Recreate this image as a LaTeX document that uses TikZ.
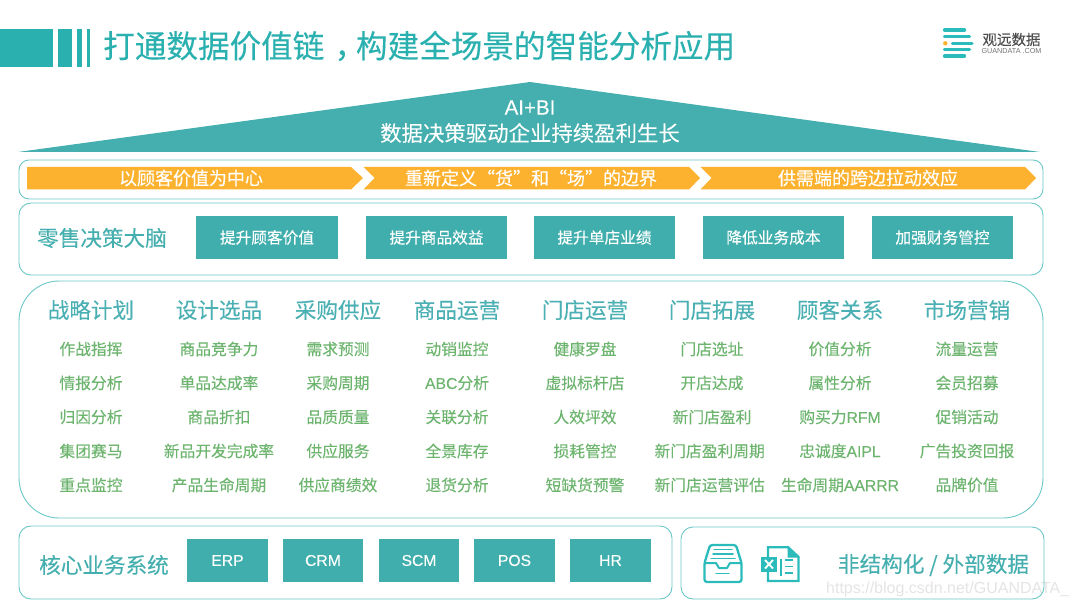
\documentclass[tikz,border=0pt]{standalone}
\usepackage{fontspec}
\setmainfont[FakeBold=0.12]{Noto Sans CJK SC}
\newfontfamily\latinfont{Liberation Sans}
\newfontfamily\latinbold[FakeBold=0.12]{Liberation Sans}
\definecolor{tealbar}{HTML}{2BB0B0}
\definecolor{teal2}{HTML}{45AFAF}
\definecolor{btn}{HTML}{3FAEAC}
\definecolor{panel}{HTML}{6CC8C8}
\definecolor{orangeb}{HTML}{FDB22F}
\definecolor{itemg}{HTML}{6DB56F}
\definecolor{head}{HTML}{4BB0B3}
\definecolor{icon}{HTML}{2BBBBB}
\newcommand{\fs}[1]{\fontsize{#1}{#1}\selectfont}
\newcommand{\lt}[1]{{\latinbold #1}}
\tikzset{
  panelbox/.style={draw=panel,line width=0.9pt,fill=white},
  btnbox/.style={fill=btn,text=white,minimum height=43pt,inner sep=0pt,font=\fs{15.7}},
  item/.style={text=itemg,inner sep=0pt,font=\fs{15.75}},
  colhead/.style={text=head,inner sep=0pt,font=\fs{21.6}},
  sidehead/.style={text=teal2,inner sep=0pt,font=\fs{21.6}},
  band/.style={text=white,inner sep=0pt,font=\fs{18}},
  arrowband/.style={fill=orangeb},
  iconline/.style={draw=icon,line width=2.3pt,line join=round,line cap=round},
}
\begin{document}
\begin{tikzpicture}[x=1pt,y=-1pt]
\useasboundingbox (0,0) rectangle (1080,607);
% title bars
\fill[tealbar] (0,29) rectangle (53,67);
\fill[tealbar] (58,29) rectangle (72,67);
\fill[tealbar] (77,29) rectangle (81.5,67);
\fill[tealbar] (87,29) rectangle (90,67);
\node[anchor=west,inner sep=0pt,text=tealbar,font=\fs{31.6}] (title) at (103,46) {打通数据价值链\hspace{0.32em}，\hspace{-0.32em}构建全场景的智能分析应用};
% logo
\begin{scope}[line cap=round]
\draw[icon,line width=3.2pt] (944.5,30) -- (964.5,30);
\draw[icon,line width=3.2pt] (944.5,36.7) -- (969.5,36.7);
\draw[icon,line width=3.2pt] (952.5,43.3) -- (972,43.3);
\draw[icon,line width=3.2pt] (944.5,49.6) -- (969.5,49.6);
\draw[icon,line width=3.2pt] (944.5,56) -- (964.5,56);
\end{scope}
\fill[orangeb] (945.3,43.3) circle (2.2);
\node[anchor=center,inner sep=0pt,text=black!70,font=\fs{14.5}] (logoa) at (1011.5,39.5) {观远数据};
\node[anchor=center,inner sep=0pt,text=black!55,font=\latinfont\fs{7.2}] (logob) at (1011.5,51.5) {GUANDATA .COM};
% roof
\fill[teal2] (18,152) -- (530,82) -- (1040,152) -- cycle;
\node[inner sep=0pt,text=white,font=\latinbold\fs{20.5}] (roofa) at (530,107.5) {AI+BI};
\node[inner sep=0pt,text=white,font=\fs{21.4}] (roofb) at (530,133) {数据决策驱动企业持续盈利生长};
% panels
\draw[panelbox,rounded corners=10pt] (19,160) rectangle (1043,199);
\draw[panelbox,rounded corners=12pt] (19,203) rectangle (1043,275);
\draw[panelbox,rounded corners=40pt] (19,281) rectangle (1043,518);
\draw[panelbox,rounded corners=12pt] (19,526) rectangle (672,599);
\draw[panelbox,rounded corners=12pt] (681,527) rectangle (1044,599);
% arrows
\fill[arrowband] (27,167) -- (351,167) -- (363,178) -- (351,189.5) -- (27,189.5) -- cycle;
\fill[arrowband] (363.5,167) -- (689,167) -- (700,178) -- (689,189.5) -- (363.5,189.5) -- (374.5,178) -- cycle;
\fill[arrowband] (700.5,167) -- (1025,167) -- (1036,178) -- (1025,189.5) -- (700.5,189.5) -- (711.5,178) -- cycle;
\node[band] (b1) at (191,178) {以顾客价值为中心};
\node[band] (b2) at (531,178) {重新定义“货”和“场”的边界};
\node[band] (b3) at (868,178) {供需端的跨边拉动效应};
% retail brain
\node[sidehead,anchor=west] (brain) at (37,238) {零售决策大脑};
\node[btnbox,minimum width=142pt] (v1) at (267,237.5) {提升顾客价值};
\node[btnbox,minimum width=141pt] (v2) at (436.5,237.5) {提升商品效益};
\node[btnbox,minimum width=141pt] (v3) at (604.5,237.5) {提升单店业绩};
\node[btnbox,minimum width=141pt] (v4) at (773.5,237.5) {降低业务成本};
\node[btnbox,minimum width=141pt] (v5) at (942.5,237.5) {加强财务管控};
% columns
\foreach \n/\x/\y/\h/\a/\b/\c/\d/\e in {
 1/91/91/战略计划/作战指挥/情报分析/归因分析/集团赛马/重点监控,
 2/219/219/设计选品/商品竞争力/单品达成率/商品折扣/新品开发完成率/产品生命周期,
 3/338/338/采购供应/需求预测/采购周期/品质质量/供应服务/供应商绩效,
 4/457/457/商品运营/动销监控/\lt{ABC}分析/关联分析/全景库存/退货分析,
 5/585/585/门店运营/健康罗盘/虚拟标杆店/人效坪效/损耗管控/短缺货预警,
 6/712/709.7/门店拓展/门店选址/开店达成/新门店盈利/新门店盈利周期/新门店运营评估,
 7/840/840/顾客关系/价值分析/属性分析/购买力\lt{RFM}/忠诚度\lt{AIPL}/生命周期\lt{AARRR},
 8/967/967/市场营销/流量运营/会员招募/促销活动/广告投资回报/品牌价值}{
  \node[colhead] (h\n) at (\x,310) {\h};
  \node[item] (a\n) at (\x,349) {\a};
  \node[item] (b\n) at (\x,383) {\b};
  \node[item] (c\n) at (\x,417) {\c};
  \node[item] (d\n) at (\y,451) {\d};
  \node[item] (e\n) at (\y,485) {\e};
}
% core systems
\node[sidehead,anchor=west] (core) at (39,565) {核心业务系统};
\foreach \n/\x/\w in {ERP/227.5/81,CRM/323/80,SCM/419/80,POS/514.5/81,HR/610.5/81}{
  \node[btnbox,minimum width=\w pt,font=\latinbold\fs{15.7}] (\n) at (\x,560.5) {\n};
}
\node[sidehead,anchor=center] (ext) at (933.5,565) {非结构化 / 外部数据};
% inbox icon
\draw[iconline,rounded corners=2.5pt] (704.5,563) -- (710,545) -- (736,545) -- (741.5,563) -- (741.5,582) -- (704.5,582) -- cycle;
\draw[iconline,line width=2pt] (704.5,563) -- (716,563) -- (719,568) -- (727,568) -- (730,563) -- (741.5,563);
\draw[iconline,line width=1.5pt] (714,549.5) -- (732,549.5) (713,554) -- (733,554) (711,558.5) -- (735,558.5) (716,573.5) -- (729,573.5);
% excel icon
\draw[iconline,line width=2.4pt,line join=miter,line cap=butt] (768,557) -- (768,547.2) -- (788,547.2) -- (798.5,557) -- (798.5,581) -- (768,581) -- (768,571);
\fill[icon] (787.5,546) -- (799.7,557.5) -- (787.5,557.5) -- cycle;
\fill[icon] (761,557) rectangle (777,571.5);
\draw[white,line width=1.9pt] (765,560) -- (773,568.5) (773,560) -- (765,568.5);
\draw[icon,line width=1.6pt] (781,559) -- (781,576);
\draw[icon,line width=1.6pt] (785,560) -- (793,560) (785,566.5) -- (793,566.5) (785,573) -- (793,573);
% watermark
\node[anchor=west,inner sep=0pt,text=black!65,opacity=0.16,font=\latinfont\fs{16}] (wm) at (826,589.5) {https://blog.csdn.net/GUANDATA\_};
\end{tikzpicture}
\end{document}
